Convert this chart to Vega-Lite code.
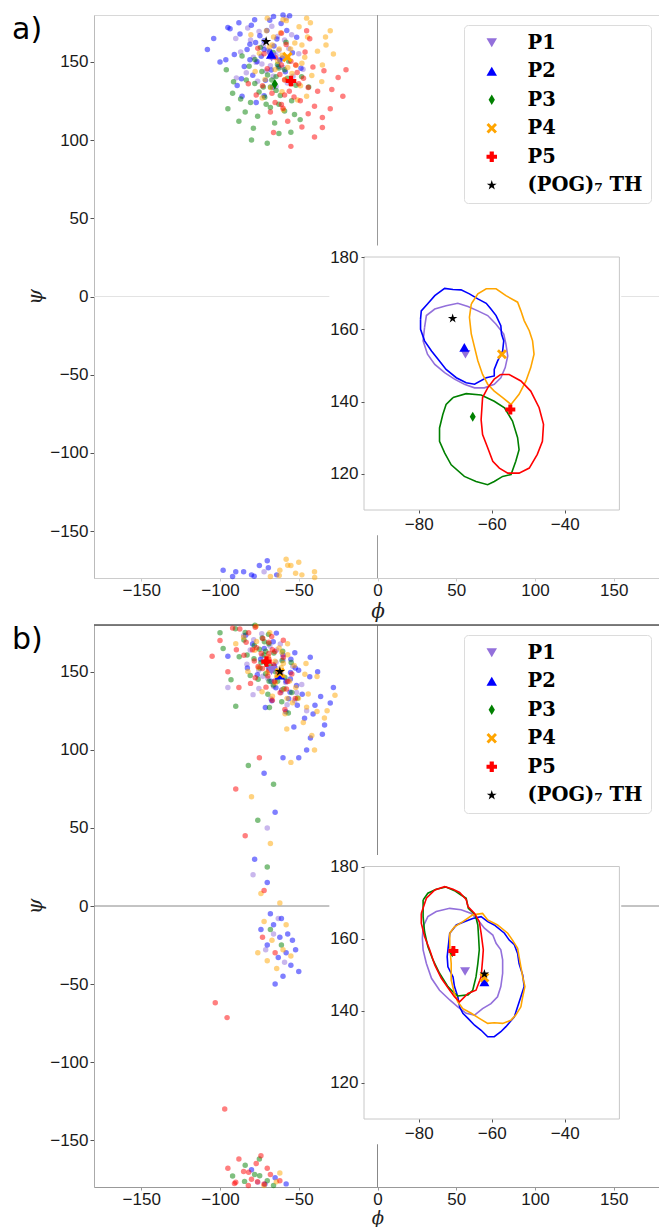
{
"$schema": "https://vega.github.io/schema/vega-lite/v6.json",
"background": "white",
"padding": {"left": 11, "top": 11, "right": 0, "bottom": 0},
"autosize": {"type": "pad"},
"spacing": -1,
"datasets": {
"meanA": [{"s":"P1","x":-67.2,"y":153.1},{"s":"P2","x":-67.5,"y":155},{"s":"P3","x":-65.2,"y":135.8},{"s":"P4","x":-57.2,"y":153.1},{"s":"P5","x":-54.9,"y":137.8},{"s":"(POG)₇ TH","x":-70.7,"y":163}],
"meanB": [{"s":"P1","x":-67.3,"y":150.9},{"s":"P2","x":-62,"y":148},{"s":"P3","x":-70.8,"y":156.2},{"s":"P4","x":-62,"y":149.2},{"s":"P5","x":-70.5,"y":156.6},{"s":"(POG)₇ TH","x":-62,"y":150.2}],
"box": [{"cx1":-104.5,"cx2":-24.5,"cy1":103,"cy2":183.2,"fx1":-95,"fx2":-25,"fy1":110,"fy2":180}],
"ptsA": [
{"s":"P1","x":-68,"y":153},{"s":"P1","x":-62.6,"y":157.4},{"s":"P1","x":-72.5,"y":160.7},{"s":"P1","x":-59.9,"y":146.4},{"s":"P1","x":-77,"y":149.7},{"s":"P1","x":-66.2,"y":140.9},{"s":"P1","x":-70.7,"y":144.2},{"s":"P1","x":-56.3,"y":158.5},{"s":"P1","x":-80.6,"y":164},{"s":"P1","x":-63.5,"y":166.2},{"s":"P1","x":-75.2,"y":169.5},{"s":"P1","x":-53.6,"y":140.9},{"s":"P1","x":-83.3,"y":143.1},{"s":"P1","x":-67.1,"y":172.8},{"s":"P1","x":-64.4,"y":134.3},{"s":"P1","x":-50,"y":155.2},{"s":"P1","x":-86.9,"y":156.3},{"s":"P1","x":-59,"y":164},{"s":"P1","x":-76.1,"y":137.6},{"s":"P1","x":-57.2,"y":136.5},{"s":"P1","x":-78.8,"y":153},{"s":"P1","x":-64.4,"y":154.1},{"s":"P1","x":-69.8,"y":157.4},{"s":"P1","x":-61.7,"y":150.8},{"s":"P1","x":-68,"y":147.5},{"s":"P1","x":-73.4,"y":148.6},{"s":"P1","x":-54.5,"y":167.3},{"s":"P1","x":-82.4,"y":171.7},{"s":"P1","x":-47.3,"y":145.3},{"s":"P1","x":-89.6,"y":139.8},{"s":"P1","x":-72,"y":-176},{"s":"P1","x":-90,"y":165},{"s":"P1","x":-58,"y":178},
{"s":"P2","x":-72,"y":158},{"s":"P2","x":-66.6,"y":153.6},{"s":"P2","x":-76.5,"y":150.3},{"s":"P2","x":-63.9,"y":164.6},{"s":"P2","x":-81,"y":161.3},{"s":"P2","x":-70.2,"y":170.1},{"s":"P2","x":-74.7,"y":166.8},{"s":"P2","x":-60.3,"y":152.5},{"s":"P2","x":-84.6,"y":147},{"s":"P2","x":-67.5,"y":144.8},{"s":"P2","x":-79.2,"y":141.5},{"s":"P2","x":-57.6,"y":170.1},{"s":"P2","x":-87.3,"y":167.9},{"s":"P2","x":-71.1,"y":138.2},{"s":"P2","x":-68.4,"y":176.7},{"s":"P2","x":-54,"y":155.8},{"s":"P2","x":-90.9,"y":154.7},{"s":"P2","x":-63,"y":147},{"s":"P2","x":-80.1,"y":173.4},{"s":"P2","x":-61.2,"y":174.5},{"s":"P2","x":-82.8,"y":158},{"s":"P2","x":-68.4,"y":156.9},{"s":"P2","x":-73.8,"y":153.6},{"s":"P2","x":-65.7,"y":160.2},{"s":"P2","x":-72,"y":163.5},{"s":"P2","x":-77.4,"y":162.4},{"s":"P2","x":-58.5,"y":143.7},{"s":"P2","x":-86.4,"y":139.3},{"s":"P2","x":-51.3,"y":165.7},{"s":"P2","x":-93.6,"y":171.2},{"s":"P2","x":-66.6,"y":133.8},{"s":"P2","x":-78.3,"y":-178.9},{"s":"P2","x":-55.8,"y":179.5},{"s":"P2","x":-89.1,"y":134.9},{"s":"P2","x":-48.6,"y":145.9},{"s":"P2","x":-96.3,"y":151.4},{"s":"P2","x":-72,"y":128.3},{"s":"P2","x":-69.3,"y":-173.4},{"s":"P2","x":-62.1,"y":151.4},{"s":"P2","x":-81,"y":151.4},{"s":"P2","x":-85,"y":-176},{"s":"P2","x":-75,"y":-172},{"s":"P2","x":-64,"y":-178},{"s":"P2","x":-92,"y":-179},{"s":"P2","x":-70,"y":-169},{"s":"P2","x":-98,"y":-175},{"s":"P2","x":-80,"y":-178},{"s":"P2","x":-78,"y":177},{"s":"P2","x":-88,"y":175},{"s":"P2","x":-66,"y":179},{"s":"P2","x":-104,"y":165},{"s":"P2","x":-100,"y":150},{"s":"P2","x":-95,"y":172},{"s":"P2","x":-86,"y":128},{"s":"P2","x":-60,"y":180},{"s":"P2","x":-108,"y":158},{"s":"P2","x":-90,"y":-176},{"s":"P2","x":-77,"y":124},
{"s":"P3","x":-68,"y":134},{"s":"P3","x":-64.4,"y":140.6},{"s":"P3","x":-61.7,"y":128.5},{"s":"P3","x":-73.4,"y":143.9},{"s":"P3","x":-70.7,"y":123},{"s":"P3","x":-77.9,"y":136.2},{"s":"P3","x":-75.2,"y":130.7},{"s":"P3","x":-63.5,"y":148.3},{"s":"P3","x":-59,"y":118.6},{"s":"P3","x":-57.2,"y":139.5},{"s":"P3","x":-54.5,"y":125.2},{"s":"P3","x":-77.9,"y":151.6},{"s":"P3","x":-76.1,"y":115.3},{"s":"P3","x":-51.8,"y":135.1},{"s":"P3","x":-83.3,"y":138.4},{"s":"P3","x":-66.2,"y":156},{"s":"P3","x":-65.3,"y":110.9},{"s":"P3","x":-59,"y":145},{"s":"P3","x":-80.6,"y":124.1},{"s":"P3","x":-81.5,"y":147.2},{"s":"P3","x":-68,"y":120.8},{"s":"P3","x":-67.1,"y":138.4},{"s":"P3","x":-64.4,"y":131.8},{"s":"P3","x":-69.8,"y":141.7},{"s":"P3","x":-72.5,"y":134},{"s":"P3","x":-71.6,"y":127.4},{"s":"P3","x":-56.3,"y":150.5},{"s":"P3","x":-52.7,"y":116.4},{"s":"P3","x":-74.3,"y":159.3},{"s":"P3","x":-78.8,"y":107.6},{"s":"P3","x":-48.2,"y":140.6},{"s":"P3","x":-86.9,"y":126.3},{"s":"P3","x":-86,"y":153.8},{"s":"P3","x":-49.1,"y":113.1},{"s":"P3","x":-58.1,"y":162.6},{"s":"P3","x":-62.6,"y":104.3},{"s":"P3","x":-43.7,"y":134},{"s":"P3","x":-91.4,"y":137.3},{"s":"P3","x":-62.6,"y":146.1},{"s":"P3","x":-62.6,"y":123},{"s":"P3","x":-95,"y":120},{"s":"P3","x":-88,"y":112},{"s":"P3","x":-80,"y":100},{"s":"P3","x":-70,"y":98},{"s":"P3","x":-96,"y":145},{"s":"P3","x":-55,"y":105},{"s":"P3","x":-84,"y":118},{"s":"P3","x":-92,"y":130},
{"s":"P4","x":-57,"y":153},{"s":"P4","x":-62.4,"y":158.2},{"s":"P4","x":-52.5,"y":162.1},{"s":"P4","x":-65.1,"y":145.2},{"s":"P4","x":-48,"y":149.1},{"s":"P4","x":-58.8,"y":138.7},{"s":"P4","x":-54.3,"y":142.6},{"s":"P4","x":-68.7,"y":159.5},{"s":"P4","x":-44.4,"y":166},{"s":"P4","x":-61.5,"y":168.6},{"s":"P4","x":-49.8,"y":172.5},{"s":"P4","x":-71.4,"y":138.7},{"s":"P4","x":-41.7,"y":141.3},{"s":"P4","x":-57.9,"y":176.4},{"s":"P4","x":-60.6,"y":130.9},{"s":"P4","x":-75,"y":155.6},{"s":"P4","x":-38.1,"y":156.9},{"s":"P4","x":-66,"y":166},{"s":"P4","x":-48.9,"y":134.8},{"s":"P4","x":-67.8,"y":133.5},{"s":"P4","x":-46.2,"y":153},{"s":"P4","x":-60.6,"y":154.3},{"s":"P4","x":-55.2,"y":158.2},{"s":"P4","x":-63.3,"y":150.4},{"s":"P4","x":-57,"y":146.5},{"s":"P4","x":-51.6,"y":147.8},{"s":"P4","x":-70.5,"y":169.9},{"s":"P4","x":-42.6,"y":175.1},{"s":"P4","x":-77.7,"y":143.9},{"s":"P4","x":-35.4,"y":137.4},{"s":"P4","x":-62.4,"y":-178.4},{"s":"P4","x":-50.7,"y":125.7},{"s":"P4","x":-73.2,"y":127},{"s":"P4","x":-39.9,"y":-179.7},{"s":"P4","x":-80.4,"y":167.3},{"s":"P4","x":-32.7,"y":160.8},{"s":"P4","x":-57,"y":-171.9},{"s":"P4","x":-59.7,"y":119.2},{"s":"P4","x":-66.9,"y":160.8},{"s":"P4","x":-48,"y":160.8},{"s":"P4","x":-62,"y":-175},{"s":"P4","x":-55,"y":-172},{"s":"P4","x":-48,"y":-178},{"s":"P4","x":-68,"y":-179},{"s":"P4","x":-58,"y":-168},{"s":"P4","x":-52,"y":-177},{"s":"P4","x":-45,"y":178},{"s":"P4","x":-60,"y":177},{"s":"P4","x":-30,"y":170},{"s":"P4","x":-35,"y":148},{"s":"P4","x":-28,"y":155},{"s":"P4","x":-70,"y":178},{"s":"P4","x":-40,"y":-176},{"s":"P4","x":-45,"y":128},{"s":"P4","x":-33,"y":166},{"s":"P4","x":-50,"y":-170},
{"s":"P5","x":-55,"y":136},{"s":"P5","x":-59,"y":128.8},{"s":"P5","x":-62,"y":142},{"s":"P5","x":-49,"y":125.2},{"s":"P5","x":-52,"y":148},{"s":"P5","x":-44,"y":133.6},{"s":"P5","x":-47,"y":139.6},{"s":"P5","x":-60,"y":120.4},{"s":"P5","x":-65,"y":152.8},{"s":"P5","x":-67,"y":130},{"s":"P5","x":-70,"y":145.6},{"s":"P5","x":-44,"y":116.8},{"s":"P5","x":-46,"y":156.4},{"s":"P5","x":-73,"y":134.8},{"s":"P5","x":-38,"y":131.2},{"s":"P5","x":-57,"y":112},{"s":"P5","x":-58,"y":161.2},{"s":"P5","x":-65,"y":124},{"s":"P5","x":-41,"y":146.8},{"s":"P5","x":-40,"y":121.6},{"s":"P5","x":-55,"y":150.4},{"s":"P5","x":-56,"y":131.2},{"s":"P5","x":-59,"y":138.4},{"s":"P5","x":-53,"y":127.6},{"s":"P5","x":-50,"y":136},{"s":"P5","x":-51,"y":143.2},{"s":"P5","x":-68,"y":118},{"s":"P5","x":-72,"y":155.2},{"s":"P5","x":-48,"y":108.4},{"s":"P5","x":-43,"y":164.8},{"s":"P5","x":-77,"y":128.8},{"s":"P5","x":-34,"y":144.4},{"s":"P5","x":-35,"y":114.4},{"s":"P5","x":-76,"y":158.8},{"s":"P5","x":-66,"y":104.8},{"s":"P5","x":-61,"y":168.4},{"s":"P5","x":-82,"y":136},{"s":"P5","x":-29,"y":132.4},{"s":"P5","x":-61,"y":122.8},{"s":"P5","x":-61,"y":148},{"s":"P5","x":-25,"y":140},{"s":"P5","x":-30,"y":120},{"s":"P5","x":-40,"y":102},{"s":"P5","x":-55,"y":96},{"s":"P5","x":-22,"y":128},{"s":"P5","x":-45,"y":170},{"s":"P5","x":-35,"y":108},{"s":"P5","x":-20,"y":145}
],
"ptsB": [
{"s":"P1","x":-67,"y":151},{"s":"P1","x":-64.4,"y":156.2},{"s":"P1","x":-73.3,"y":160.1},{"s":"P1","x":-58.3,"y":143.2},{"s":"P1","x":-72.8,"y":147.1},{"s":"P1","x":-61.2,"y":136.7},{"s":"P1","x":-65.9,"y":140.6},{"s":"P1","x":-59.9,"y":157.5},{"s":"P1","x":-80.8,"y":164},{"s":"P1","x":-68.3,"y":166.6},{"s":"P1","x":-78.6,"y":170.5},{"s":"P1","x":-51.4,"y":136.7},{"s":"P1","x":-75.3,"y":139.3},{"s":"P1","x":-73.5,"y":174.4},{"s":"P1","x":-57.4,"y":128.9},{"s":"P1","x":-53.8,"y":153.6},{"s":"P1","x":-82.9,"y":154.9},{"s":"P1","x":-64,"y":164},{"s":"P1","x":-67.7,"y":132.8},{"s":"P1","x":-52.6,"y":131.5},{"s":"P1","x":-75.4,"y":151},{"s":"P1","x":-64.6,"y":152.3},{"s":"P1","x":-70,"y":156.2},{"s":"P1","x":-61.3,"y":148.4},{"s":"P1","x":-65,"y":144.5},{"s":"P1","x":-69.6,"y":145.8},{"s":"P1","x":-61.7,"y":167.9},{"s":"P1","x":-85,"y":173.1},{"s":"P1","x":-48.1,"y":141.9},{"s":"P1","x":-79,"y":135.4},{"s":"P1","x":-66,"y":-18},{"s":"P1","x":-59,"y":-36},{"s":"P1","x":-71,"y":-28},{"s":"P1","x":-63,"y":-8},{"s":"P1","x":-70,"y":50},{"s":"P1","x":-79,"y":20},{"s":"P1","x":-76,"y":-177},{"s":"P1","x":-95,"y":140},{"s":"P1","x":-45,"y":125},
{"s":"P2","x":-58,"y":144},{"s":"P2","x":-55.2,"y":149.6},{"s":"P2","x":-65.5,"y":153.8},{"s":"P2","x":-47.8,"y":135.6},{"s":"P2","x":-64.5,"y":139.8},{"s":"P2","x":-50.9,"y":128.6},{"s":"P2","x":-56.4,"y":132.8},{"s":"P2","x":-50.1,"y":151},{"s":"P2","x":-74.2,"y":158},{"s":"P2","x":-60,"y":160.8},{"s":"P2","x":-71.9,"y":165},{"s":"P2","x":-39.7,"y":128.6},{"s":"P2","x":-67.1,"y":131.4},{"s":"P2","x":-66.2,"y":169.2},{"s":"P2","x":-46.3,"y":120.2},{"s":"P2","x":-43,"y":146.8},{"s":"P2","x":-76.3,"y":148.2},{"s":"P2","x":-55,"y":158},{"s":"P2","x":-58.2,"y":124.4},{"s":"P2","x":-40.9,"y":123},{"s":"P2","x":-67.6,"y":144},{"s":"P2","x":-55.3,"y":145.4},{"s":"P2","x":-61.6,"y":149.6},{"s":"P2","x":-51.4,"y":141.2},{"s":"P2","x":-55.5,"y":137},{"s":"P2","x":-60.8,"y":138.4},{"s":"P2","x":-52.5,"y":162.2},{"s":"P2","x":-79.3,"y":167.8},{"s":"P2","x":-36.1,"y":134.2},{"s":"P2","x":-71.2,"y":127.2},{"s":"P2","x":-64.2,"y":174.8},{"s":"P2","x":-53.1,"y":114.6},{"s":"P2","x":-33.6,"y":116},{"s":"P2","x":-83.7,"y":173.4},{"s":"P2","x":-42.7,"y":159.4},{"s":"P2","x":-82.6,"y":152.4},{"s":"P2","x":-71.5,"y":-178.2},{"s":"P2","x":-42.6,"y":107.6},{"s":"P2","x":-52.2,"y":152.4},{"s":"P2","x":-69,"y":152.4},{"s":"P2","x":-62,"y":-20},{"s":"P2","x":-58,"y":-30},{"s":"P2","x":-66,"y":-12},{"s":"P2","x":-55,"y":-38},{"s":"P2","x":-70,"y":-25},{"s":"P2","x":-60,"y":-45},{"s":"P2","x":-52,"y":-28},{"s":"P2","x":-68,"y":-5},{"s":"P2","x":-63,"y":-33},{"s":"P2","x":-57,"y":-18},{"s":"P2","x":-74,"y":-15},{"s":"P2","x":-50,"y":-42},{"s":"P2","x":-65,"y":-50},{"s":"P2","x":-61,"y":-8},{"s":"P2","x":-54,"y":-22},{"s":"P2","x":-72,"y":85},{"s":"P2","x":-65,"y":60},{"s":"P2","x":-78,"y":30},{"s":"P2","x":-70,"y":15},{"s":"P2","x":-60,"y":95},{"s":"P2","x":-65,"y":-174},{"s":"P2","x":-58,"y":-178},{"s":"P2","x":-80,"y":-169},{"s":"P2","x":-30,"y":130},{"s":"P2","x":-35,"y":110},{"s":"P2","x":-28,"y":140},{"s":"P2","x":-45,"y":100},{"s":"P2","x":-50,"y":95},{"s":"P2","x":-38,"y":150},{"s":"P2","x":-95,"y":160},
{"s":"P3","x":-71,"y":156},{"s":"P3","x":-71,"y":163.2},{"s":"P3","x":-64.8,"y":150},{"s":"P3","x":-78.2,"y":166.8},{"s":"P3","x":-68.8,"y":144},{"s":"P3","x":-78.4,"y":158.4},{"s":"P3","x":-74.6,"y":152.4},{"s":"P3","x":-73.2,"y":171.6},{"s":"P3","x":-59.4,"y":139.2},{"s":"P3","x":-65.8,"y":162},{"s":"P3","x":-58.8,"y":146.4},{"s":"P3","x":-84,"y":175.2},{"s":"P3","x":-69.6,"y":135.6},{"s":"P3","x":-60.6,"y":157.2},{"s":"P3","x":-82.8,"y":160.8},{"s":"P3","x":-77.8,"y":179.9},{"s":"P3","x":-60.8,"y":130.8},{"s":"P3","x":-69,"y":168},{"s":"P3","x":-75.8,"y":145.2},{"s":"P3","x":-84.8,"y":170.4},{"s":"P3","x":-66.2,"y":141.6},{"s":"P3","x":-72,"y":160.8},{"s":"P3","x":-67.8,"y":153.6},{"s":"P3","x":-75,"y":164.4},{"s":"P3","x":-74,"y":156},{"s":"P3","x":-71,"y":148.8},{"s":"P3","x":-69.2,"y":174},{"s":"P3","x":-54.4,"y":136.8},{"s":"P3","x":-84.4,"y":-176.4},{"s":"P3","x":-68.6,"y":127.2},{"s":"P3","x":-60.2,"y":163.2},{"s":"P3","x":-80.8,"y":147.6},{"s":"P3","x":-90.2,"y":177.6},{"s":"P3","x":-50.8,"y":133.2},{"s":"P3","x":-74.8,"y":-172.8},{"s":"P3","x":-56.6,"y":123.6},{"s":"P3","x":-54.8,"y":156},{"s":"P3","x":-87.8,"y":159.6},{"s":"P3","x":-71.8,"y":169.2},{"s":"P3","x":-63.4,"y":144},{"s":"P3","x":-68,"y":-15},{"s":"P3","x":-61,"y":-25},{"s":"P3","x":-76,"y":55},{"s":"P3","x":-70,"y":25},{"s":"P3","x":-82,"y":90},{"s":"P3","x":-66,"y":78},{"s":"P3","x":-78,"y":-172},{"s":"P3","x":-70,"y":-176},{"s":"P3","x":-84,"y":-166},{"s":"P3","x":-66,"y":-179},{"s":"P3","x":-92,"y":-173},{"s":"P3","x":-75,"y":-162},{"s":"P3","x":-98,"y":165},{"s":"P3","x":-93,"y":145},{"s":"P3","x":-90,"y":128},{"s":"P3","x":-100,"y":175},
{"s":"P4","x":-60,"y":147},{"s":"P4","x":-59.8,"y":155.4},{"s":"P4","x":-51.9,"y":140},{"s":"P4","x":-69.3,"y":159.6},{"s":"P4","x":-57.4,"y":133},{"s":"P4","x":-69.8,"y":149.8},{"s":"P4","x":-64.9,"y":142.8},{"s":"P4","x":-62.5,"y":165.2},{"s":"P4","x":-45,"y":127.4},{"s":"P4","x":-52.9,"y":154},{"s":"P4","x":-44,"y":135.8},{"s":"P4","x":-76.8,"y":169.4},{"s":"P4","x":-58.7,"y":123.2},{"s":"P4","x":-46.1,"y":148.4},{"s":"P4","x":-75.6,"y":152.6},{"s":"P4","x":-68.4,"y":175},{"s":"P4","x":-47.1,"y":117.6},{"s":"P4","x":-57,"y":161},{"s":"P4","x":-66.7,"y":134.4},{"s":"P4","x":-78,"y":163.8},{"s":"P4","x":-54,"y":130.2},{"s":"P4","x":-61.2,"y":152.6},{"s":"P4","x":-55.8,"y":144.2},{"s":"P4","x":-65.1,"y":156.8},{"s":"P4","x":-64,"y":147},{"s":"P4","x":-60.2,"y":138.6},{"s":"P4","x":-57.1,"y":168},{"s":"P4","x":-38.4,"y":124.6},{"s":"P4","x":-77.1,"y":179.2},{"s":"P4","x":-57.6,"y":113.4},{"s":"P4","x":-45.4,"y":155.4},{"s":"P4","x":-73.3,"y":137.2},{"s":"P4","x":-85,"y":172.2},{"s":"P4","x":-33.7,"y":120.4},{"s":"P4","x":-64.2,"y":-176.6},{"s":"P4","x":-41.7,"y":109.2},{"s":"P4","x":-38.4,"y":147},{"s":"P4","x":-82.3,"y":150.2},{"s":"P4","x":-60.7,"y":162.4},{"s":"P4","x":-50.2,"y":133},{"s":"P4","x":-67,"y":-22},{"s":"P4","x":-72,"y":-10},{"s":"P4","x":-60,"y":-28},{"s":"P4","x":-64,"y":-40},{"s":"P4","x":-76,"y":-30},{"s":"P4","x":-58,"y":-12},{"s":"P4","x":-70,"y":-35},{"s":"P4","x":-62,"y":2},{"s":"P4","x":-55,"y":-32},{"s":"P4","x":-80,"y":70},{"s":"P4","x":-68,"y":40},{"s":"P4","x":-74,"y":8},{"s":"P4","x":-62,"y":-171},{"s":"P4","x":-72,"y":-179},{"s":"P4","x":-32,"y":125},{"s":"P4","x":-40,"y":100},{"s":"P4","x":-27,"y":135},{"s":"P4","x":-55,"y":92},{"s":"P4","x":-90,"y":168},
{"s":"P5","x":-71,"y":157},{"s":"P5","x":-69,"y":161.8},{"s":"P5","x":-76.8,"y":165.4},{"s":"P5","x":-63.2,"y":149.8},{"s":"P5","x":-75.8,"y":153.4},{"s":"P5","x":-65.4,"y":143.8},{"s":"P5","x":-69.6,"y":147.4},{"s":"P5","x":-65.2,"y":163},{"s":"P5","x":-83.4,"y":169},{"s":"P5","x":-72.8,"y":171.4},{"s":"P5","x":-81.8,"y":175},{"s":"P5","x":-57,"y":143.8},{"s":"P5","x":-77.6,"y":146.2},{"s":"P5","x":-77.6,"y":178.6},{"s":"P5","x":-61.8,"y":136.6},{"s":"P5","x":-59.8,"y":159.4},{"s":"P5","x":-84.8,"y":160.6},{"s":"P5","x":-69,"y":169},{"s":"P5","x":-70.8,"y":140.2},{"s":"P5","x":-57.8,"y":139},{"s":"P5","x":-78.2,"y":157},{"s":"P5","x":-69,"y":158.2},{"s":"P5","x":-73.8,"y":161.8},{"s":"P5","x":-66,"y":154.6},{"s":"P5","x":-69,"y":151},{"s":"P5","x":-73,"y":152.2},{"s":"P5","x":-67.2,"y":172.6},{"s":"P5","x":-87.4,"y":177.4},{"s":"P5","x":-54.4,"y":148.6},{"s":"P5","x":-80.6,"y":142.6},{"s":"P5","x":-76.2,"y":-176.6},{"s":"P5","x":-66.8,"y":131.8},{"s":"P5","x":-52.2,"y":133},{"s":"P5","x":-90.8,"y":-177.8},{"s":"P5","x":-59.8,"y":170.2},{"s":"P5","x":-89.6,"y":164.2},{"s":"P5","x":-81.8,"y":-170.6},{"s":"P5","x":-58.8,"y":125.8},{"s":"P5","x":-66.8,"y":164.2},{"s":"P5","x":-79.4,"y":164.2},{"s":"P5","x":-65,"y":-30},{"s":"P5","x":-73,"y":-20},{"s":"P5","x":-84,"y":45},{"s":"P5","x":-75,"y":95},{"s":"P5","x":-90,"y":75},{"s":"P5","x":-72,"y":10},{"s":"P5","x":-103,"y":-62},{"s":"P5","x":-95.5,"y":-71.5},{"s":"P5","x":-97,"y":-130},{"s":"P5","x":-80,"y":-175},{"s":"P5","x":-72,"y":-178},{"s":"P5","x":-85,"y":-170},{"s":"P5","x":-68,"y":-172},{"s":"P5","x":-77,"y":-165},{"s":"P5","x":-90,"y":-177},{"s":"P5","x":-62,"y":-176},{"s":"P5","x":-74,"y":-160},{"s":"P5","x":-95,"y":-168},{"s":"P5","x":-82,"y":-179},{"s":"P5","x":-70,"y":-168},{"s":"P5","x":-88,"y":-162},{"s":"P5","x":-100,"y":170},{"s":"P5","x":-95,"y":150},{"s":"P5","x":-92,"y":178},{"s":"P5","x":-88,"y":140},{"s":"P5","x":-105,"y":160}
],
"contA": [
{"s":"P1","x":-78.4,"y":160.5},{"s":"P1","x":-77.9,"y":163.8},{"s":"P1","x":-75.6,"y":165.6},{"s":"P1","x":-72.5,"y":166.5},{"s":"P1","x":-69.3,"y":167.2},{"s":"P1","x":-66.5,"y":166.3},{"s":"P1","x":-63.8,"y":165.1},{"s":"P1","x":-61.1,"y":163.8},{"s":"P1","x":-58.8,"y":161.4},{"s":"P1","x":-56.7,"y":158.7},{"s":"P1","x":-56.1,"y":155.9},{"s":"P1","x":-55.6,"y":152.6},{"s":"P1","x":-56.3,"y":149.4},{"s":"P1","x":-57.5,"y":146.6},{"s":"P1","x":-59.3,"y":144.8},{"s":"P1","x":-62,"y":143.8},{"s":"P1","x":-64.7,"y":143.8},{"s":"P1","x":-67.5,"y":144.8},{"s":"P1","x":-70.2,"y":146.2},{"s":"P1","x":-72.9,"y":148},{"s":"P1","x":-75.6,"y":150.3},{"s":"P1","x":-77.6,"y":153.1},{"s":"P1","x":-78.8,"y":156.8},{"s":"P1","x":-78.4,"y":160.5},
{"s":"P2","x":-79.5,"y":162.8},{"s":"P2","x":-79.3,"y":165.1},{"s":"P2","x":-77.6,"y":167},{"s":"P2","x":-75.6,"y":169.3},{"s":"P2","x":-72.9,"y":171.3},{"s":"P2","x":-70.6,"y":171},{"s":"P2","x":-68.4,"y":170.9},{"s":"P2","x":-66.1,"y":169.8},{"s":"P2","x":-63.8,"y":168.4},{"s":"P2","x":-61.5,"y":167.2},{"s":"P2","x":-60.2,"y":165.6},{"s":"P2","x":-58.8,"y":163.8},{"s":"P2","x":-57.5,"y":161},{"s":"P2","x":-57.3,"y":158.7},{"s":"P2","x":-56.7,"y":156.8},{"s":"P2","x":-57,"y":154},{"s":"P2","x":-58.4,"y":151.2},{"s":"P2","x":-59.3,"y":148.9},{"s":"P2","x":-59.3,"y":147.1},{"s":"P2","x":-61.5,"y":146.6},{"s":"P2","x":-64.7,"y":144.8},{"s":"P2","x":-67,"y":145.2},{"s":"P2","x":-69.7,"y":146.6},{"s":"P2","x":-72.5,"y":148.9},{"s":"P2","x":-74.7,"y":151.7},{"s":"P2","x":-76.5,"y":154},{"s":"P2","x":-78.4,"y":156.8},{"s":"P2","x":-79.5,"y":160},{"s":"P2","x":-79.5,"y":162.8},
{"s":"P3","x":-70.6,"y":141.1},{"s":"P3","x":-67,"y":142.2},{"s":"P3","x":-62.9,"y":141.8},{"s":"P3","x":-59.3,"y":140.1},{"s":"P3","x":-56.5,"y":138.3},{"s":"P3","x":-54.3,"y":134.6},{"s":"P3","x":-52.9,"y":130},{"s":"P3","x":-52.5,"y":126.7},{"s":"P3","x":-53.4,"y":123.5},{"s":"P3","x":-54.7,"y":119.8},{"s":"P3","x":-57,"y":119.3},{"s":"P3","x":-59.3,"y":117.9},{"s":"P3","x":-61.1,"y":117},{"s":"P3","x":-64.3,"y":117.9},{"s":"P3","x":-67.5,"y":119.3},{"s":"P3","x":-71.1,"y":122.5},{"s":"P3","x":-72.9,"y":125.8},{"s":"P3","x":-74.3,"y":129},{"s":"P3","x":-74.3,"y":132.7},{"s":"P3","x":-73.4,"y":136.4},{"s":"P3","x":-72.5,"y":139.2},{"s":"P3","x":-70.6,"y":141.1},
{"s":"P4","x":-65.6,"y":167},{"s":"P4","x":-63.8,"y":169.8},{"s":"P4","x":-61.5,"y":171.2},{"s":"P4","x":-58.8,"y":171.2},{"s":"P4","x":-56.1,"y":169.3},{"s":"P4","x":-52.9,"y":167.5},{"s":"P4","x":-52,"y":165.1},{"s":"P4","x":-51.1,"y":162.4},{"s":"P4","x":-49.7,"y":159.6},{"s":"P4","x":-48.8,"y":156.8},{"s":"P4","x":-48.4,"y":153.1},{"s":"P4","x":-49.3,"y":149.4},{"s":"P4","x":-50.6,"y":145.7},{"s":"P4","x":-52.5,"y":142},{"s":"P4","x":-54.7,"y":139.2},{"s":"P4","x":-57,"y":141.1},{"s":"P4","x":-59.3,"y":142.9},{"s":"P4","x":-61.1,"y":144.8},{"s":"P4","x":-62.5,"y":147.5},{"s":"P4","x":-63.8,"y":151.3},{"s":"P4","x":-64.7,"y":155},{"s":"P4","x":-65.6,"y":158.7},{"s":"P4","x":-66.1,"y":163.3},{"s":"P4","x":-65.6,"y":167},
{"s":"P5","x":-57.5,"y":147.5},{"s":"P5","x":-55.2,"y":147.5},{"s":"P5","x":-52,"y":145.7},{"s":"P5","x":-49.3,"y":142.9},{"s":"P5","x":-47,"y":138.3},{"s":"P5","x":-45.8,"y":133.7},{"s":"P5","x":-46.1,"y":129},{"s":"P5","x":-47.5,"y":125.4},{"s":"P5","x":-49.7,"y":121.6},{"s":"P5","x":-52.5,"y":120.2},{"s":"P5","x":-55.6,"y":120.2},{"s":"P5","x":-57.9,"y":121.6},{"s":"P5","x":-59.7,"y":123.5},{"s":"P5","x":-61.1,"y":127.2},{"s":"P5","x":-62.5,"y":130.9},{"s":"P5","x":-62.9,"y":135},{"s":"P5","x":-62.5,"y":141.1},{"s":"P5","x":-61.1,"y":143.8},{"s":"P5","x":-59.3,"y":146.2},{"s":"P5","x":-57.5,"y":147.5}
],
"contB": [
{"s":"P1","x":-78.8,"y":163.3},{"s":"P1","x":-77.5,"y":166.1},{"s":"P1","x":-75.2,"y":167.5},{"s":"P1","x":-71.5,"y":168.4},{"s":"P1","x":-68.4,"y":168},{"s":"P1","x":-65.6,"y":167},{"s":"P1","x":-63.8,"y":165.2},{"s":"P1","x":-62,"y":162.9},{"s":"P1","x":-59.7,"y":161},{"s":"P1","x":-58.8,"y":158.7},{"s":"P1","x":-57.5,"y":156.9},{"s":"P1","x":-57,"y":154.1},{"s":"P1","x":-57,"y":150.4},{"s":"P1","x":-57.5,"y":146.7},{"s":"P1","x":-58.4,"y":143.9},{"s":"P1","x":-60.2,"y":142},{"s":"P1","x":-62.5,"y":140.6},{"s":"P1","x":-64.7,"y":138.8},{"s":"P1","x":-67,"y":139.3},{"s":"P1","x":-69.3,"y":141.1},{"s":"P1","x":-71.5,"y":143},{"s":"P1","x":-74.3,"y":145.7},{"s":"P1","x":-76.5,"y":149},{"s":"P1","x":-77.9,"y":153.1},{"s":"P1","x":-78.8,"y":156.9},{"s":"P1","x":-79,"y":160.1},{"s":"P1","x":-78.8,"y":163.3},
{"s":"P2","x":-72,"y":156.9},{"s":"P2","x":-71.5,"y":161.5},{"s":"P2","x":-69.7,"y":163.8},{"s":"P2","x":-67.5,"y":164.7},{"s":"P2","x":-65.2,"y":165.6},{"s":"P2","x":-62.9,"y":166.1},{"s":"P2","x":-61.1,"y":164.7},{"s":"P2","x":-59.3,"y":163.8},{"s":"P2","x":-56.5,"y":161.5},{"s":"P2","x":-55.2,"y":159.6},{"s":"P2","x":-53.8,"y":158.3},{"s":"P2","x":-52.9,"y":155.9},{"s":"P2","x":-52.5,"y":153.1},{"s":"P2","x":-51.5,"y":149.9},{"s":"P2","x":-51.1,"y":146.7},{"s":"P2","x":-52,"y":143.9},{"s":"P2","x":-52.9,"y":141.1},{"s":"P2","x":-53.8,"y":138.3},{"s":"P2","x":-56.1,"y":135.6},{"s":"P2","x":-57.5,"y":134.2},{"s":"P2","x":-59.3,"y":132.8},{"s":"P2","x":-61.1,"y":132.8},{"s":"P2","x":-62.9,"y":134.6},{"s":"P2","x":-64.7,"y":136},{"s":"P2","x":-66.5,"y":137.9},{"s":"P2","x":-67.9,"y":139.3},{"s":"P2","x":-68.8,"y":141.1},{"s":"P2","x":-69.3,"y":143.9},{"s":"P2","x":-70.2,"y":146.7},{"s":"P2","x":-70.6,"y":149.4},{"s":"P2","x":-72,"y":152.2},{"s":"P2","x":-72.2,"y":155},{"s":"P2","x":-72,"y":156.9},
{"s":"P3","x":-78.8,"y":170.7},{"s":"P3","x":-77.5,"y":172.6},{"s":"P3","x":-75.2,"y":173.7},{"s":"P3","x":-72.5,"y":174.3},{"s":"P3","x":-70.2,"y":173.3},{"s":"P3","x":-68.4,"y":172.1},{"s":"P3","x":-67,"y":171.2},{"s":"P3","x":-66.4,"y":168.4},{"s":"P3","x":-64.5,"y":166.6},{"s":"P3","x":-63.8,"y":163.8},{"s":"P3","x":-63.6,"y":160.6},{"s":"P3","x":-63.4,"y":156.9},{"s":"P3","x":-63.8,"y":153.1},{"s":"P3","x":-64.3,"y":149.4},{"s":"P3","x":-65.2,"y":145.7},{"s":"P3","x":-66.5,"y":144.4},{"s":"P3","x":-69.3,"y":144.1},{"s":"P3","x":-70.2,"y":144.8},{"s":"P3","x":-72,"y":146.7},{"s":"P3","x":-74.3,"y":150.4},{"s":"P3","x":-76.1,"y":154.1},{"s":"P3","x":-77.5,"y":157.8},{"s":"P3","x":-78.4,"y":161.9},{"s":"P3","x":-78.8,"y":166.1},{"s":"P3","x":-78.8,"y":170.7},
{"s":"P4","x":-71.5,"y":161.5},{"s":"P4","x":-70.2,"y":163.3},{"s":"P4","x":-67.9,"y":164.7},{"s":"P4","x":-65.2,"y":166.6},{"s":"P4","x":-62.5,"y":167},{"s":"P4","x":-61.1,"y":165.2},{"s":"P4","x":-58.4,"y":163.8},{"s":"P4","x":-55.6,"y":161.5},{"s":"P4","x":-54.3,"y":159.6},{"s":"P4","x":-52.9,"y":157.3},{"s":"P4","x":-52.5,"y":155},{"s":"P4","x":-52,"y":152.2},{"s":"P4","x":-51.5,"y":149.4},{"s":"P4","x":-50.9,"y":146.7},{"s":"P4","x":-51.5,"y":143.9},{"s":"P4","x":-52,"y":141.1},{"s":"P4","x":-53.4,"y":138.8},{"s":"P4","x":-54.7,"y":137.4},{"s":"P4","x":-57,"y":136.5},{"s":"P4","x":-59.3,"y":136.7},{"s":"P4","x":-61.1,"y":136.5},{"s":"P4","x":-63.4,"y":137.9},{"s":"P4","x":-65.6,"y":139.3},{"s":"P4","x":-67.9,"y":140.6},{"s":"P4","x":-69.3,"y":142.5},{"s":"P4","x":-70.2,"y":144.8},{"s":"P4","x":-71.1,"y":148.5},{"s":"P4","x":-71.1,"y":153.1},{"s":"P4","x":-71.5,"y":157.8},{"s":"P4","x":-71.5,"y":161.5},
{"s":"P5","x":-79.3,"y":167},{"s":"P5","x":-77.9,"y":171.2},{"s":"P5","x":-75.6,"y":173.5},{"s":"P5","x":-72.9,"y":174.4},{"s":"P5","x":-70.6,"y":173.7},{"s":"P5","x":-68.8,"y":172.8},{"s":"P5","x":-67,"y":170.9},{"s":"P5","x":-66.5,"y":168.9},{"s":"P5","x":-64.7,"y":167},{"s":"P5","x":-63.4,"y":164.7},{"s":"P5","x":-62.9,"y":161.5},{"s":"P5","x":-62.3,"y":156.9},{"s":"P5","x":-62.5,"y":154.1},{"s":"P5","x":-62.9,"y":149.4},{"s":"P5","x":-64.3,"y":145.7},{"s":"P5","x":-66.5,"y":144.8},{"s":"P5","x":-68.8,"y":142.5},{"s":"P5","x":-70.2,"y":143.9},{"s":"P5","x":-71.5,"y":145.7},{"s":"P5","x":-73.8,"y":149},{"s":"P5","x":-75.6,"y":152.7},{"s":"P5","x":-77,"y":156.9},{"s":"P5","x":-78.4,"y":160.6},{"s":"P5","x":-79.3,"y":164.3},{"s":"P5","x":-79.3,"y":167}
]
},
"vconcat": [
{
"width": 567, "height": 563,
"title": {"text": "a)", "anchor": "start", "frame": "group", "orient": "top", "font": "DejaVu Sans", "fontSize": 30, "fontWeight": "normal", "color": "#000", "baseline": "top", "offset": -25, "dx": -82, "dy": 8},
"layer": [
{"data": {"values": [{"v": 0}]}, "mark": {"type": "rule", "color": "#999999", "strokeWidth": 1}, "encoding": {"x": {"field": "v", "type": "quantitative", "scale": {"domain": [-180, 180], "nice": false, "zero": false}, "axis": null}}},
{"data": {"values": [{"v": 0}]}, "mark": {"type": "rule", "color": "#e3e3e3", "strokeWidth": 1}, "encoding": {"y": {"field": "v", "type": "quantitative", "scale": {"domain": [-180, 180], "nice": false, "zero": false}, "axis": null}}},
{"data": {"name": "ptsA"}, "mark": {"type": "circle", "size": 30, "opacity": 0.5},
 "encoding": {
  "x": {"field": "x", "type": "quantitative", "scale": {"domain": [-180, 180], "nice": false, "zero": false}, "axis": {"values": [-150, -100, -50, 0, 50, 100, 150], "title": "ϕ", "titlePadding": 3, "labelPadding": 1, "tickSize": 3, "tickColor": "#cccccc", "domainColor": "#cccccc"}},
  "y": {"field": "y", "type": "quantitative", "scale": {"domain": [-180, 180], "nice": false, "zero": false}, "axis": {"values": [-150, -100, -50, 0, 50, 100, 150], "title": "ψ", "titlePadding": 4, "labelPadding": 2, "tickSize": 4, "domainColor": "#bbbbbb"}},
  "fill": {"field": "s", "type": "nominal", "scale": {"domain": ["P1", "P2", "P3", "P4", "P5"], "range": ["#9370db", "#0000ff", "#008000", "#ffa500", "#ff0000"]}, "legend": null}
 }},
{"data": {"name": "meanA"}, "mark": {"type": "point", "filled": true, "size": 110, "opacity": 1, "strokeWidth": 0},
 "encoding": {
  "x": {"field": "x", "type": "quantitative", "scale": {"domain": [-180, 180], "nice": false, "zero": false}, "axis": null},
  "y": {"field": "y", "type": "quantitative", "scale": {"domain": [-180, 180], "nice": false, "zero": false}, "axis": null},
  "color": {"field": "s", "type": "nominal", "scale": {"domain": ["P1", "P2", "P3", "P4", "P5", "(POG)₇ TH"], "range": ["#9370db", "#0000ff", "#008000", "#ffa500", "#ff0000", "#000000"]}, "legend": {"title": null}},
  "shape": {"field": "s", "type": "nominal", "scale": {"domain": ["P1", "P2", "P3", "P4", "P5", "(POG)₇ TH"], "range": ["triangle-down", "triangle-up", "M0,-1L0.6,0L0,1L-0.6,0Z", "M-1,-0.6L-0.6,-1L0,-0.4L0.6,-1L1,-0.6L0.4,0L1,0.6L0.6,1L0,0.4L-0.6,1L-1,0.6L-0.4,0Z", "cross", "M0,-1L0.2245,-0.309L0.9511,-0.309L0.3633,0.118L0.5878,0.809L0,0.382L-0.5878,0.809L-0.3633,0.118L-0.9511,-0.309L-0.2245,-0.309Z"]}, "legend": {"title": null}}
 }},
{"data": {"name": "box"}, "mark": {"type": "rect", "fill": "white", "strokeWidth": 0},
 "encoding": {
  "x": {"field": "cx1", "type": "quantitative", "scale": {"domain": [-95, -25], "range": [270, 525.4], "nice": false, "zero": false}, "axis": null}, "x2": {"field": "cx2"},
  "y": {"field": "cy1", "type": "quantitative", "scale": {"domain": [110, 180], "range": [495, 242], "nice": false, "zero": false}, "axis": null}, "y2": {"field": "cy2"}
 }},
{"data": {"name": "box"}, "mark": {"type": "rect", "fill": null, "fillOpacity": 0, "stroke": "#c8c8c8", "strokeWidth": 1},
 "encoding": {
  "x": {"field": "fx1", "type": "quantitative", "scale": {"domain": [-95, -25], "range": [270, 525.4], "nice": false, "zero": false}, "axis": null}, "x2": {"field": "fx2"},
  "y": {"field": "fy1", "type": "quantitative", "scale": {"domain": [110, 180], "range": [495, 242], "nice": false, "zero": false}, "axis": null}, "y2": {"field": "fy2"}
 }},
{"data": {"name": "contA"}, "mark": {"type": "line", "strokeWidth": 1.6},
 "encoding": {
  "x": {"field": "x", "type": "quantitative", "scale": {"domain": [-95, -25], "range": [270, 525.4], "nice": false, "zero": false}, "axis": {"orient": "bottom", "offset": -68, "values": [-80, -60, -40], "title": null, "domain": false, "tickSize": 3, "labelPadding": 3, "zindex": 2}},
  "y": {"field": "y", "type": "quantitative", "scale": {"domain": [110, 180], "range": [495, 242], "nice": false, "zero": false}, "axis": {"orient": "left", "offset": -270, "values": [120, 140, 160, 180], "title": null, "domain": false, "tickSize": 3, "labelPadding": 3, "zindex": 2}},
  "stroke": {"field": "s", "type": "nominal", "scale": {"domain": ["P1", "P2", "P3", "P4", "P5"], "range": ["#9370db", "#0000ff", "#008000", "#ffa500", "#ff0000"]}, "legend": null},
  "order": {"value": null}
 }},
{"data": {"name": "meanA"}, "mark": {"type": "point", "filled": true, "size": 100, "opacity": 1, "strokeWidth": 0},
 "encoding": {
  "x": {"field": "x", "type": "quantitative", "scale": {"domain": [-95, -25], "range": [270, 525.4], "nice": false, "zero": false}, "axis": null},
  "y": {"field": "y", "type": "quantitative", "scale": {"domain": [110, 180], "range": [495, 242], "nice": false, "zero": false}, "axis": null},
  "color": {"field": "s", "type": "nominal", "scale": {"domain": ["P1", "P2", "P3", "P4", "P5", "(POG)₇ TH"], "range": ["#9370db", "#0000ff", "#008000", "#ffa500", "#ff0000", "#000000"]}},
  "shape": {"field": "s", "type": "nominal", "scale": {"domain": ["P1", "P2", "P3", "P4", "P5", "(POG)₇ TH"], "range": ["triangle-down", "triangle-up", "M0,-1L0.6,0L0,1L-0.6,0Z", "M-1,-0.6L-0.6,-1L0,-0.4L0.6,-1L1,-0.6L0.4,0L1,0.6L0.6,1L0,0.4L-0.6,1L-1,0.6L-0.4,0Z", "cross", "M0,-1L0.2245,-0.309L0.9511,-0.309L0.3633,0.118L0.5878,0.809L0,0.382L-0.5878,0.809L-0.3633,0.118L-0.9511,-0.309L-0.2245,-0.309Z"]}}
 }}
],
"resolve": {"scale": {"x": "independent", "y": "independent"}}
},
{
"width": 567, "height": 562,
"title": {"text": "b)", "anchor": "start", "frame": "group", "orient": "top", "font": "DejaVu Sans", "fontSize": 30, "fontWeight": "normal", "color": "#000", "baseline": "top", "offset": -25, "dx": -82, "dy": 8},
"layer": [
{"data": {"values": [{"v": 0}]}, "mark": {"type": "rule", "color": "#888888", "strokeWidth": 1}, "encoding": {"x": {"field": "v", "type": "quantitative", "scale": {"domain": [-180, 180], "nice": false, "zero": false}, "axis": null}}},
{"data": {"values": [{"v": 0}]}, "mark": {"type": "rule", "color": "#888888", "strokeWidth": 1}, "encoding": {"y": {"field": "v", "type": "quantitative", "scale": {"domain": [-180, 180], "nice": false, "zero": false}, "axis": null}}},
{"data": {"values": [{"v": 180}]}, "mark": {"type": "rule", "color": "#555555", "strokeWidth": 1.5}, "encoding": {"y": {"field": "v", "type": "quantitative", "scale": {"domain": [-180, 180], "nice": false, "zero": false}, "axis": null}}},
{"data": {"name": "ptsB"}, "mark": {"type": "circle", "size": 30, "opacity": 0.5},
 "encoding": {
  "x": {"field": "x", "type": "quantitative", "scale": {"domain": [-180, 180], "nice": false, "zero": false}, "axis": {"values": [-150, -100, -50, 0, 50, 100, 150], "title": "ϕ", "titlePadding": 2, "titleFontSize": 18, "labelPadding": 1, "tickSize": 3, "tickColor": "#999999", "domainColor": "#999999"}},
  "y": {"field": "y", "type": "quantitative", "scale": {"domain": [-180, 180], "nice": false, "zero": false}, "axis": {"values": [-150, -100, -50, 0, 50, 100, 150], "title": "ψ", "titlePadding": 4, "labelPadding": 2, "tickSize": 4, "domainColor": "#aaaaaa"}},
  "fill": {"field": "s", "type": "nominal", "scale": {"domain": ["P1", "P2", "P3", "P4", "P5"], "range": ["#9370db", "#0000ff", "#008000", "#ffa500", "#ff0000"]}, "legend": null}
 }},
{"data": {"name": "meanB"}, "mark": {"type": "point", "filled": true, "size": 110, "opacity": 1, "strokeWidth": 0},
 "encoding": {
  "x": {"field": "x", "type": "quantitative", "scale": {"domain": [-180, 180], "nice": false, "zero": false}, "axis": null},
  "y": {"field": "y", "type": "quantitative", "scale": {"domain": [-180, 180], "nice": false, "zero": false}, "axis": null},
  "color": {"field": "s", "type": "nominal", "scale": {"domain": ["P1", "P2", "P3", "P4", "P5", "(POG)₇ TH"], "range": ["#9370db", "#0000ff", "#008000", "#ffa500", "#ff0000", "#000000"]}, "legend": {"title": null}},
  "shape": {"field": "s", "type": "nominal", "scale": {"domain": ["P1", "P2", "P3", "P4", "P5", "(POG)₇ TH"], "range": ["triangle-down", "triangle-up", "M0,-1L0.6,0L0,1L-0.6,0Z", "M-1,-0.6L-0.6,-1L0,-0.4L0.6,-1L1,-0.6L0.4,0L1,0.6L0.6,1L0,0.4L-0.6,1L-1,0.6L-0.4,0Z", "cross", "M0,-1L0.2245,-0.309L0.9511,-0.309L0.3633,0.118L0.5878,0.809L0,0.382L-0.5878,0.809L-0.3633,0.118L-0.9511,-0.309L-0.2245,-0.309Z"]}, "legend": {"title": null}}
 }},
{"data": {"name": "box"}, "mark": {"type": "rect", "fill": "white", "strokeWidth": 0},
 "encoding": {
  "x": {"field": "cx1", "type": "quantitative", "scale": {"domain": [-95, -25], "range": [270, 525.4], "nice": false, "zero": false}, "axis": null}, "x2": {"field": "cx2"},
  "y": {"field": "cy1", "type": "quantitative", "scale": {"domain": [110, 180], "range": [494, 241.5], "nice": false, "zero": false}, "axis": null}, "y2": {"field": "cy2"}
 }},
{"data": {"name": "box"}, "mark": {"type": "rect", "fill": null, "fillOpacity": 0, "stroke": "#c8c8c8", "strokeWidth": 1},
 "encoding": {
  "x": {"field": "fx1", "type": "quantitative", "scale": {"domain": [-95, -25], "range": [270, 525.4], "nice": false, "zero": false}, "axis": null}, "x2": {"field": "fx2"},
  "y": {"field": "fy1", "type": "quantitative", "scale": {"domain": [110, 180], "range": [494, 241.5], "nice": false, "zero": false}, "axis": null}, "y2": {"field": "fy2"}
 }},
{"data": {"name": "contB"}, "mark": {"type": "line", "strokeWidth": 1.6},
 "encoding": {
  "x": {"field": "x", "type": "quantitative", "scale": {"domain": [-95, -25], "range": [270, 525.4], "nice": false, "zero": false}, "axis": {"orient": "bottom", "offset": -68, "values": [-80, -60, -40], "title": null, "domain": false, "tickSize": 3, "labelPadding": 3, "zindex": 2}},
  "y": {"field": "y", "type": "quantitative", "scale": {"domain": [110, 180], "range": [494, 241.5], "nice": false, "zero": false}, "axis": {"orient": "left", "offset": -270, "values": [120, 140, 160, 180], "title": null, "domain": false, "tickSize": 3, "labelPadding": 3, "zindex": 2}},
  "stroke": {"field": "s", "type": "nominal", "scale": {"domain": ["P1", "P2", "P3", "P4", "P5"], "range": ["#9370db", "#0000ff", "#008000", "#ffa500", "#ff0000"]}, "legend": null},
  "order": {"value": null}
 }},
{"data": {"name": "meanB"}, "mark": {"type": "point", "filled": true, "size": 100, "opacity": 1, "strokeWidth": 0},
 "encoding": {
  "x": {"field": "x", "type": "quantitative", "scale": {"domain": [-95, -25], "range": [270, 525.4], "nice": false, "zero": false}, "axis": null},
  "y": {"field": "y", "type": "quantitative", "scale": {"domain": [110, 180], "range": [494, 241.5], "nice": false, "zero": false}, "axis": null},
  "color": {"field": "s", "type": "nominal", "scale": {"domain": ["P1", "P2", "P3", "P4", "P5", "(POG)₇ TH"], "range": ["#9370db", "#0000ff", "#008000", "#ffa500", "#ff0000", "#000000"]}},
  "shape": {"field": "s", "type": "nominal", "scale": {"domain": ["P1", "P2", "P3", "P4", "P5", "(POG)₇ TH"], "range": ["triangle-down", "triangle-up", "M0,-1L0.6,0L0,1L-0.6,0Z", "M-1,-0.6L-0.6,-1L0,-0.4L0.6,-1L1,-0.6L0.4,0L1,0.6L0.6,1L0,0.4L-0.6,1L-1,0.6L-0.4,0Z", "cross", "M0,-1L0.2245,-0.309L0.9511,-0.309L0.3633,0.118L0.5878,0.809L0,0.382L-0.5878,0.809L-0.3633,0.118L-0.9511,-0.309L-0.2245,-0.309Z"]}}
 }}
],
"resolve": {"scale": {"x": "independent", "y": "independent"}}
}
],
"resolve": {"scale": {"color": "independent", "shape": "independent", "fill": "independent", "stroke": "independent"}, "legend": {"color": "independent", "shape": "independent", "fill": "independent", "stroke": "independent"}},
"config": {
 "view": {"stroke": "#d8d8d8"},
 "axis": {"grid": false, "labelFont": "Liberation Sans", "labelFontSize": 17, "labelColor": "#1a1a1a", "titleFont": "DejaVu Serif", "titleFontSize": 20, "titleFontWeight": "normal", "titleFontStyle": "italic", "titleColor": "#222222", "tickColor": "#555555", "domainColor": "#c8c8c8"},
 "legend": {"orient": "top-right", "offset": 10, "padding": 8, "strokeColor": "#dcdcdc", "fillColor": "white", "cornerRadius": 4, "labelFont": "DejaVu Serif", "labelFontWeight": "bold", "labelFontSize": 19.5, "labelColor": "#000000", "symbolSize": 110, "symbolStrokeWidth": 0, "rowPadding": 7.5, "labelOffset": 26, "symbolOffset": 10}
}
}
